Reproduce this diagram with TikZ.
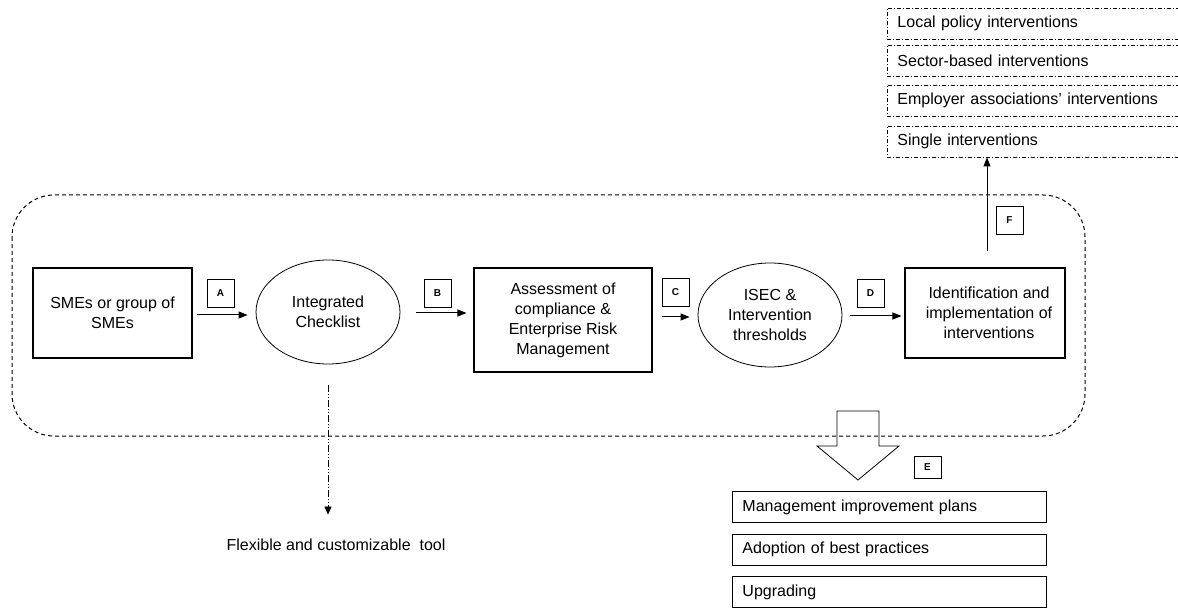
\documentclass[tikz,border=0pt]{standalone}
\usepackage{fontspec}
\setmainfont{Liberation Sans}
\usetikzlibrary{shapes.geometric,arrows.meta}
\tikzset{
  box/.style={draw, line width=1.1pt, align=center, inner sep=2pt,
    font=\fontsize{16}{20}\selectfont},
  oval/.style={draw, ellipse, line width=0.8pt, align=center, inner sep=0pt,
    minimum width=144, minimum height=104, font=\fontsize{16}{20}\selectfont},
  lbl/.style={draw, line width=0.8pt, minimum width=27, minimum height=28, inner sep=0pt,
    font=\fontsize{10}{11}\selectfont\bfseries},
  listbox/.style={draw, line width=0.9pt, anchor=west, text width=#1, align=left,
    inner xsep=10pt, minimum height=31, font=\fontsize{16}{20}\selectfont},
  dotbox/.style={listbox=#1, dash pattern=on 4pt off 2pt on 1pt off 2pt},
  arr/.style={-{Triangle[length=9pt,width=7pt]}, line width=1pt},
}
\begin{document}
\begin{tikzpicture}[x=1pt,y=-1pt]
\useasboundingbox (0,0) rectangle (1178,609);

% dashed enclosure
\draw[line width=1pt, dash pattern=on 4pt off 3pt, rounded corners=42] (12,195) rectangle (1085,436);

% main nodes
\node[box, minimum width=159, minimum height=90] (sme) at (112.5,313) {SMEs or group of\\SMEs};
\node[oval] (check) at (328,312) {Integrated\\Checklist};
\node[box, minimum width=178, minimum height=104] (assess) at (563,320) {Assessment of\\compliance \&\\Enterprise Risk\\Management};
\node[oval] (isec) at (770,315) {ISEC \&\\Intervention\\thresholds};
\node[box, minimum width=160, minimum height=90] (ident) at (985,313) {\hspace*{8pt}Identification and\\\hspace*{8pt}implementation of\\\hspace*{8pt}interventions};

% labels
\node[lbl] (la) at (220.5,293) {A};
\node[lbl] (lb) at (437.5,293) {B};
\node[lbl] (lc) at (675.5,292) {C};
\node[lbl] (ld) at (870.5,293) {D};
\node[lbl] (lf) at (1009.5,220) {F};
\node[lbl, minimum height=22] (le) at (927.5,467.5) {E};

% arrows
\draw[arr] ([xshift=4pt]sme.east |- 0,315) -- ([xshift=-8pt]check.west |- 0,315);
\draw[arr] ([xshift=16pt]check.east |- 0,313) -- ([xshift=-7pt]assess.west |- 0,313);
\draw[arr] ([xshift=9pt]assess.east |- 0,317) -- ([xshift=-8pt]isec.west |- 0,317);
\draw[arr] ([xshift=8pt]isec.east |- 0,316) -- ([xshift=-3pt]ident.west |- 0,316);

% top interventions
\node[dotbox=300] (t1) at (887,23.5) {Local policy interventions};
\node[dotbox=300] (t2) at (887,61) {Sector-based interventions};
\node[dotbox=300] (t3) at (887,100.5) {Employer associations’ interventions};
\node[dotbox=300] (t4) at (887,141.5) {Single interventions};
\coordinate (fstart) at (987,251);
\draw[arr] (fstart) -- (fstart |- t4.south);

% flexible tool
\coordinate (cstart) at (328,385);
\node[font=\fontsize{16}{20}\selectfont] (flex) at (336,545) {Flexible and customizable\ \ tool};
\draw[-{Triangle[length=8pt,width=7pt]}, line width=0.8pt, dash pattern=on 7pt off 2pt on 1pt off 2pt on 1pt off 2pt, shorten >=21pt] (cstart) -- (cstart |- flex.north);

% hollow arrow E
\draw[line width=0.8pt] (837,446) -- (837,411) -- (879,411) -- (879,446) -- (899,446) -- (858,480) -- (817,446) -- cycle;

% bottom boxes
\node[listbox=294] (b1) at (732,507) {Management improvement plans};
\node[listbox=294] (b2) at (732,549.5) {Adoption of best practices};
\node[listbox=294] (b3) at (732,592) {Upgrading};
\end{tikzpicture}
\end{document}
